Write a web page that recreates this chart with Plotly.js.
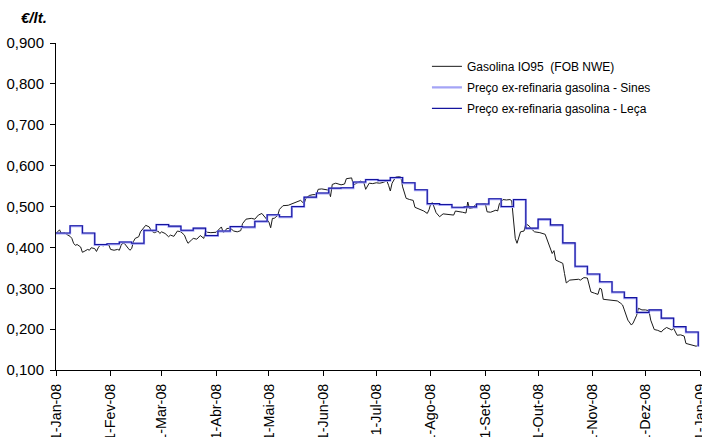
<!DOCTYPE html>
<html><head><meta charset="utf-8">
<script src="https://cdn.plot.ly/plotly-3.0.1.min.js"></script>
<style>html,body{margin:0;padding:0;background:#fff}#chart{width:702px;height:437px}</style>
</head><body><div id="chart"></div>
<script>
const monthTicks = ['2008-01-01','2008-02-01','2008-03-01','2008-04-01','2008-05-01','2008-06-01','2008-07-01','2008-08-01','2008-09-01','2008-10-01','2008-11-01','2008-12-01','2009-01-01'];
const monthLabels = ['1-Jan-08','1-Fev-08','1-Mar-08','1-Abr-08','1-Mai-08','1-Jun-08','1-Jul-08','1-Ago-08','1-Set-08','1-Out-08','1-Nov-08','1-Dez-08','1-Jan-09'];

const seriesNames = ['Gasolina IO95\u00a0\u00a0(FOB NWE)','Preço ex-refinaria gasolina - Sines','Preço ex-refinaria gasolina - Leça'];

const fobDates = ['2008-01-01','2008-01-02','2008-01-03','2008-01-04','2008-01-06','2008-01-07','2008-01-09','2008-01-10','2008-01-11','2008-01-12','2008-01-13','2008-01-15','2008-01-16','2008-01-17','2008-01-19','2008-01-20','2008-01-21','2008-01-23','2008-01-24','2008-01-25','2008-01-26','2008-01-28','2008-01-30','2008-01-31','2008-02-01','2008-02-03','2008-02-05','2008-02-06','2008-02-07','2008-02-08','2008-02-09','2008-02-11','2008-02-12','2008-02-13','2008-02-14','2008-02-15','2008-02-17','2008-02-18','2008-02-19','2008-02-20','2008-02-21','2008-02-23','2008-02-24','2008-02-25','2008-02-26','2008-02-28','2008-02-29','2008-03-01','2008-03-03','2008-03-05','2008-03-06','2008-03-08','2008-03-09','2008-03-10','2008-03-12','2008-03-13','2008-03-14','2008-03-15','2008-03-16','2008-03-18','2008-03-19','2008-03-21','2008-03-22','2008-03-23','2008-03-25','2008-03-26','2008-03-27','2008-03-29','2008-04-01','2008-04-02','2008-04-04','2008-04-05','2008-04-06','2008-04-07','2008-04-09','2008-04-11','2008-04-13','2008-04-15','2008-04-16','2008-04-18','2008-04-21','2008-04-23','2008-04-25','2008-04-27','2008-04-28','2008-04-29','2008-05-01','2008-05-02','2008-05-03','2008-05-04','2008-05-06','2008-05-07','2008-05-09','2008-05-12','2008-05-14','2008-05-17','2008-05-19','2008-05-21','2008-05-22','2008-05-24','2008-05-26','2008-05-28','2008-05-29','2008-05-31','2008-06-03','2008-06-04','2008-06-05','2008-06-06','2008-06-08','2008-06-09','2008-06-11','2008-06-13','2008-06-14','2008-06-17','2008-06-18','2008-06-19','2008-06-22','2008-06-24','2008-06-25','2008-06-27','2008-06-29','2008-07-01','2008-07-03','2008-07-05','2008-07-07','2008-07-08','2008-07-09','2008-07-10','2008-07-12','2008-07-14','2008-07-15','2008-07-16','2008-07-17','2008-07-18','2008-07-20','2008-07-22','2008-07-23','2008-07-25','2008-07-28','2008-07-30','2008-07-31','2008-08-01','2008-08-02','2008-08-04','2008-08-06','2008-08-08','2008-08-10','2008-08-12','2008-08-14','2008-08-15','2008-08-17','2008-08-19','2008-08-21','2008-08-22','2008-08-23','2008-08-25','2008-08-27','2008-08-29','2008-09-01','2008-09-02','2008-09-04','2008-09-06','2008-09-07','2008-09-08','2008-09-09','2008-09-11','2008-09-13','2008-09-15','2008-09-16','2008-09-17','2008-09-18','2008-09-19','2008-09-20','2008-09-21','2008-09-23','2008-09-24','2008-09-26','2008-09-27','2008-09-29','2008-10-02','2008-10-05','2008-10-06','2008-10-07','2008-10-09','2008-10-10','2008-10-11','2008-10-13','2008-10-15','2008-10-16','2008-10-17','2008-10-19','2008-10-22','2008-10-24','2008-10-25','2008-10-27','2008-10-29','2008-10-31','2008-11-02','2008-11-04','2008-11-05','2008-11-06','2008-11-07','2008-11-10','2008-11-15','2008-11-17','2008-11-18','2008-11-19','2008-11-21','2008-11-23','2008-11-24','2008-11-26','2008-11-27','2008-11-29','2008-12-01','2008-12-03','2008-12-04','2008-12-06','2008-12-08','2008-12-10','2008-12-11','2008-12-13','2008-12-15','2008-12-16','2008-12-17','2008-12-19','2008-12-21','2008-12-23','2008-12-24','2008-12-27','2008-12-30','2008-12-31'];
const fobValues = [0.434,0.438,0.443,0.434,0.435,0.432,0.427,0.422,0.410,0.405,0.407,0.401,0.388,0.390,0.395,0.393,0.399,0.397,0.390,0.399,0.405,0.404,0.407,0.406,0.395,0.393,0.395,0.393,0.405,0.411,0.409,0.398,0.393,0.397,0.414,0.422,0.426,0.438,0.444,0.450,0.454,0.450,0.442,0.438,0.436,0.440,0.434,0.438,0.434,0.426,0.430,0.427,0.434,0.440,0.438,0.434,0.430,0.419,0.410,0.418,0.422,0.420,0.425,0.429,0.422,0.440,0.437,0.436,0.437,0.442,0.450,0.437,0.439,0.446,0.447,0.440,0.438,0.441,0.458,0.469,0.471,0.469,0.479,0.483,0.477,0.471,0.462,0.448,0.471,0.471,0.478,0.493,0.502,0.503,0.507,0.513,0.515,0.507,0.520,0.527,0.529,0.529,0.542,0.543,0.541,0.540,0.524,0.554,0.557,0.555,0.553,0.555,0.568,0.570,0.552,0.555,0.562,0.558,0.542,0.557,0.556,0.558,0.557,0.559,0.563,0.552,0.538,0.557,0.572,0.573,0.572,0.548,0.532,0.520,0.517,0.515,0.498,0.495,0.489,0.483,0.492,0.507,0.509,0.485,0.475,0.482,0.481,0.480,0.479,0.489,0.488,0.486,0.484,0.511,0.495,0.497,0.507,0.506,0.507,0.487,0.486,0.489,0.491,0.489,0.507,0.517,0.516,0.517,0.514,0.467,0.422,0.410,0.425,0.438,0.440,0.458,0.452,0.446,0.438,0.436,0.432,0.420,0.405,0.385,0.392,0.369,0.365,0.361,0.336,0.313,0.320,0.321,0.322,0.320,0.326,0.325,0.291,0.288,0.285,0.300,0.298,0.273,0.271,0.269,0.263,0.259,0.247,0.222,0.210,0.215,0.234,0.251,0.247,0.247,0.245,0.222,0.199,0.197,0.193,0.198,0.204,0.199,0.198,0.202,0.185,0.186,0.183,0.165,0.161,0.158,0.163];

const refDates = ['2008-01-01','2008-01-09','2008-01-16','2008-01-23','2008-01-30','2008-02-06','2008-02-13','2008-02-20','2008-02-27','2008-03-05','2008-03-12','2008-03-19','2008-03-26','2008-04-02','2008-04-09','2008-04-16','2008-04-23','2008-04-30','2008-05-07','2008-05-14','2008-05-21','2008-05-28','2008-06-04','2008-06-11','2008-06-18','2008-06-25','2008-07-02','2008-07-09','2008-07-16','2008-07-23','2008-07-30','2008-08-06','2008-08-13','2008-08-20','2008-08-27','2008-09-03','2008-09-10','2008-09-17','2008-09-24','2008-10-01','2008-10-08','2008-10-15','2008-10-22','2008-10-29','2008-11-05','2008-11-12','2008-11-19','2008-11-26','2008-12-03','2008-12-10','2008-12-17','2008-12-24','2008-12-31'];
const sinesValues = [0.434,0.452,0.434,0.406,0.408,0.412,0.409,0.441,0.455,0.451,0.441,0.446,0.428,0.439,0.450,0.449,0.463,0.479,0.474,0.499,0.522,0.532,0.544,0.545,0.559,0.565,0.563,0.570,0.557,0.540,0.506,0.504,0.497,0.498,0.505,0.518,0.499,0.516,0.446,0.468,0.454,0.410,0.353,0.334,0.315,0.290,0.276,0.240,0.246,0.226,0.205,0.192,0.157];
const lecaValues  = [0.435,0.453,0.435,0.407,0.409,0.413,0.410,0.442,0.456,0.452,0.442,0.447,0.429,0.440,0.451,0.450,0.464,0.480,0.475,0.500,0.523,0.533,0.545,0.546,0.560,0.566,0.564,0.571,0.558,0.541,0.507,0.505,0.498,0.499,0.506,0.519,0.500,0.517,0.447,0.469,0.455,0.411,0.354,0.335,0.316,0.291,0.277,0.241,0.247,0.227,0.206,0.193,0.158];

const FONT = 'Liberation Sans, Arial, sans-serif';

const traces = [
  {x: fobDates, y: fobValues, name: seriesNames[0], type: 'scatter', mode: 'lines',
   line: {color: '#1a1a1a', width: 1}, legendgroup: 'a'},
  {x: refDates, y: sinesValues, name: seriesNames[1], type: 'scatter', mode: 'lines',
   line: {color: '#a4a4f6', width: 2.2, shape: 'hv'}, legendgroup: 'b'},
  {x: refDates, y: lecaValues, name: seriesNames[2], type: 'scatter', mode: 'lines',
   line: {color: '#14149e', width: 1.1, shape: 'hv'}, legendgroup: 'c'}
];

const layout = {
  width: 702, height: 437,
  margin: {l: 56, r: 2, t: 43, b: 67, pad: 0},
  paper_bgcolor: '#ffffff', plot_bgcolor: '#ffffff',
  separators: ',.',
  font: {family: FONT, size: 15, color: '#000'},
  showlegend: true,
  legend: {x: 0.576, y: 0.973, xanchor: 'left', yanchor: 'top',
           font: {family: FONT, size: 12, color: '#000'},
           bgcolor: 'rgba(0,0,0,0)', tracegroupgap: 2, itemwidth: 30},
  xaxis: {type: 'date', range: ['2008-01-01', '2009-01-01'],
          tickmode: 'array', tickvals: monthTicks, ticktext: monthLabels,
          tickangle: -90, ticks: 'outside', ticklen: 5, tickcolor: '#000', tickwidth: 1,
          ticklabelstandoff: 2, ticklabeloverflow: 'allow',
          showline: true, linecolor: '#000', linewidth: 1, showgrid: false, zeroline: false,
          tickfont: {family: FONT, size: 14.3, color: '#000'}},
  yaxis: {range: [0.1, 0.9], tickmode: 'linear', tick0: 0.1, dtick: 0.1, tickformat: '.3f',
          ticks: 'outside', ticklen: 5, tickcolor: '#000', tickwidth: 1,
          ticklabelstandoff: 3,
          showline: true, linecolor: '#000', linewidth: 1, showgrid: false, zeroline: false,
          tickfont: {family: FONT, size: 15, color: '#000'}},
  annotations: [{text: '<b><i>€/lt.</i></b>', xref: 'paper', yref: 'paper',
                 x: -0.058, y: 1.078, xanchor: 'left', yanchor: 'middle', showarrow: false,
                 font: {family: FONT, size: 15, color: '#000'}}]
};

Plotly.newPlot('chart', traces, layout, {staticPlot: true, displayModeBar: false});
</script>
</body></html>
